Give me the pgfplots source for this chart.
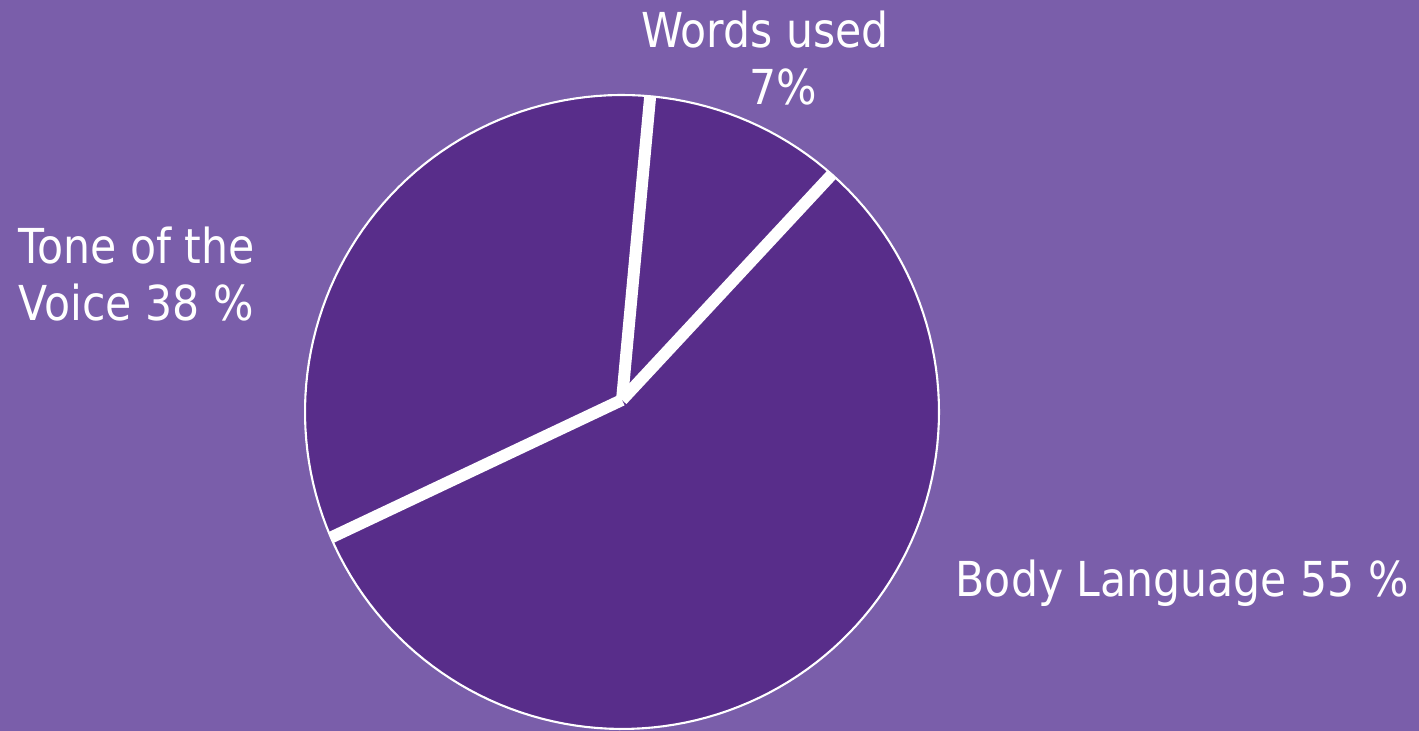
\documentclass[border=0pt]{standalone}
\usepackage{pgfplots}
\usepackage{pgfplotstable}
\pgfplotsset{compat=1.18}
\usepackage{fontspec}
\setmainfont{DejaVu Sans}[FakeStretch=0.885]
\definecolor{bg}{RGB}{122,94,170}
\definecolor{pie}{RGB}{88,45,138}
\pgfplotstableread{
label share
Words 10.1
Body 57.0
Tone 32.9
}\piedata
\begin{document}
\begin{tikzpicture}
\pgfplotstablegetelem{0}{share}\of\piedata \let\sA\pgfplotsretval
\pgfplotstablegetelem{1}{share}\of\piedata \let\sB\pgfplotsretval
\pgfplotstablegetelem{2}{share}\of\piedata \let\sC\pgfplotsretval
\pgfmathsetmacro{\aA}{84.9}
\pgfmathsetmacro{\aB}{\aA-3.6*\sA}
\pgfmathsetmacro{\aC}{\aB-3.6*\sB}
\pgfmathsetmacro{\aD}{\aC-3.6*\sC}
\begin{axis}[
  scale only axis, width=14.19cm, height=7.31cm,
  xmin=0, xmax=1419, ymin=0, ymax=731,
  axis lines=none, clip=true,
]
\fill[bg] (0,0) rectangle (1419,731);
\addplot[draw=none, fill=pie, domain=\aB:\aA, samples=40] ({622+317*cos(x)},{319+317*sin(x)}) -- (622,331) -- cycle;
\addplot[draw=none, fill=pie, domain=\aC:\aB, samples=120] ({622+317*cos(x)},{319+317*sin(x)}) -- (622,331) -- cycle;
\addplot[draw=none, fill=pie, domain=\aD:\aC, samples=80] ({622+317*cos(x)},{319+317*sin(x)}) -- (622,331) -- cycle;
\addplot[white, line width=0.6pt, domain=0:360, samples=180] ({622+317*cos(x)},{319+317*sin(x)});
\draw[white, line width=3.4pt] (622,331) -- ({622+317*cos(\aA)},{319+317*sin(\aA)});
\draw[white, line width=3.4pt] (622,331) -- ({622+317*cos(\aB)},{319+317*sin(\aB)});
\draw[white, line width=3.4pt] (622,331) -- ({622+317*cos(\aC)},{319+317*sin(\aC)});
\node[white, inner sep=0, anchor=base, font=\fontsize{13.7}{16}\selectfont] at (765,683) {Words used};
\node[white, inner sep=0, anchor=base, font=\fontsize{13.7}{16}\selectfont] at (783,626) {7\%};
\node[white, inner sep=0, anchor=base west, font=\fontsize{13.7}{16}\selectfont] at (18,467) {Tone of the};
\node[white, inner sep=0, anchor=base west, font=\fontsize{13.7}{16}\selectfont] at (18,410) {Voice 38 \%};
\node[white, inner sep=0, anchor=base west, font=\fontsize{13.7}{16}\selectfont] at (955,134) {Body Language 55 \%};
\end{axis}
\end{tikzpicture}
\end{document}
